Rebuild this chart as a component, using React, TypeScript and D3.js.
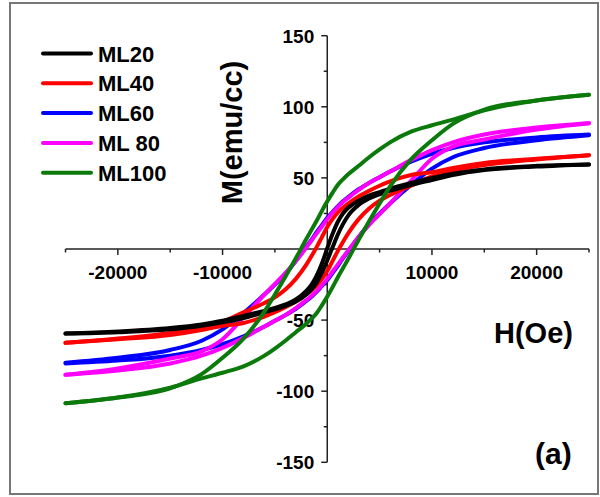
import React from 'react';
import * as d3 from 'd3';

// Field grid (Oe)
const H_GRID = [-25000, -20000, -15000, -12000, -10000, -8000, -6000, -5000, -4000, -3000, -2000, -1500, -1000, -500, 0, 500, 1000, 1500, 2000, 3000, 4000, 5000, 6000, 8000, 10000, 12000, 15000, 20000, 25000];

const SERIES_NAMES = ['ML20', 'ML40', 'ML60', 'ML 80', 'ML100'];
const SERIES_COLORS = ['#000000', '#ff0000', '#0000ff', '#ff00ff', '#0b7a0b'];

// descending-field branch (upper) and ascending-field branch (lower), M in emu/cc
const ML20_DOWN = [-59.5, -58, -55.5, -53, -50.5, -47, -43.5, -41.5, -39, -35.5, -29.5, -25, -18.5, -10, 0.5, 10.5, 19, 25, 29, 34, 37.5, 40, 42.5, 46.5, 50, 53, 56, 58.5, 59.5];
const ML20_UP = [-59.5, -58.5, -56.5, -54, -51.5, -48.5, -44.5, -42.5, -40, -37, -32, -28.5, -23.5, -16.5, -8, 1, 10, 17.5, 23.5, 31, 35.5, 38.5, 41, 45, 48.5, 52, 55.5, 58, 59.5];

const ML40_DOWN = [-66, -63, -59, -55, -51, -44.5, -38, -34, -28.5, -21, -11, -5, 1.5, 8.5, 15.5, 21, 25.5, 29, 32, 37, 41, 44.5, 47.5, 52, 54, 57, 60.5, 63.5, 66];
const ML40_UP = [-66, -63.5, -60.5, -57, -54, -52, -47.5, -44.5, -41, -37, -32, -29, -25.5, -21, -15.5, -8.5, -1.5, 5, 11, 21, 28.5, 34, 38, 44.5, 51, 55, 59, 63, 66];

const ML60_DOWN = [-80, -76.5, -71, -64.5, -56.5, -45, -32, -25, -17.5, -8.5, 1.5, 6.5, 12, 17, 22, 26, 30, 33.5, 36.5, 42, 46.5, 50.5, 54.5, 61.5, 67, 71, 75, 78.5, 80.5];
const ML60_UP = [-80.5, -78.5, -75, -71, -67, -61.5, -54.5, -50.5, -46.5, -42, -36.5, -33.5, -30, -26, -22, -17, -12, -6.5, -1.5, 8.5, 17.5, 25, 32, 45, 56.5, 64.5, 71, 76.5, 80];

const ML80_DOWN = [-88.5, -84, -77, -72, -63.5, -48, -32, -24.5, -17, -8.5, 1, 6, 11, 16, 21, 25.5, 29.5, 33, 36, 41.5, 46.5, 50.5, 54.5, 62.5, 69.5, 75, 80.5, 85.5, 88.5];
const ML80_UP = [-88.5, -85.5, -80.5, -75, -69.5, -62.5, -54.5, -50.5, -46.5, -41.5, -36, -33, -29.5, -25.5, -21, -16, -11, -6, -1, 8.5, 17, 24.5, 32, 48, 63.5, 72, 77, 84, 88.5];

const ML100_DOWN = [-108.5, -104.5, -98, -88, -76.5, -63, -44, -32, -19.5, -6.5, 7, 13.5, 20, 27, 33.5, 39.5, 45, 49, 52.5, 58.5, 64.5, 70, 75, 82.5, 87, 91, 97.5, 104.5, 108.5];
const ML100_UP = [-108.5, -104.5, -97.5, -91, -87, -82.5, -75, -70, -64.5, -58.5, -52.5, -49, -45, -39.5, -33.5, -27, -20, -13.5, -7, 6.5, 19.5, 32, 44, 63, 76.5, 88, 98, 104.5, 108.5];

const DOWN_BRANCHES = [ML20_DOWN, ML40_DOWN, ML60_DOWN, ML80_DOWN, ML100_DOWN];
const UP_BRANCHES = [ML20_UP, ML40_UP, ML60_UP, ML80_UP, ML100_UP];

const X_TICKS = [-25000, -20000, -15000, -10000, -5000, 5000, 10000, 15000, 20000, 25000];
const X_LABELS = [-20000, -10000, 10000, 20000];
const Y_TICKS = [-150, -125, -100, -75, -50, -25, 25, 50, 75, 100, 125, 150];
const Y_LABELS = [-150, -100, -50, 50, 100, 150];

const FONT = '"Liberation Sans", Arial, Helvetica, sans-serif';

export default function App() {
  const W = 600;
  const H = 497;
  const x = d3.scaleLinear().domain([-25000, 25000]).range([65.5, 589]);
  const y = d3.scaleLinear().domain([-150, 150]).range([462.3, 35.7]);
  const x0 = x(0);
  const y0 = y(0);

  const line = d3
    .line<[number, number]>()
    .x((d) => x(d[0]))
    .y((d) => y(d[1]))
    .curve(d3.curveMonotoneX);

  const drawOrder = [2, 3, 1, 0, 4];

  return (
    <svg
      width={W}
      height={H}
      viewBox={`0 0 ${W} ${H}`}
      style={{ position: 'absolute', left: 0, top: 0, background: '#fff' }}
    >
      <rect x={0} y={0} width={W} height={H} fill="#fff" />
      <rect x={10} y={3} width={588} height={491} fill="none" stroke="#777" strokeWidth={2} />

      {/* x axis */}
      <line x1={x(-25000)} x2={x(25000)} y1={y0} y2={y0} stroke="#222" strokeWidth={1.5} />
      {X_TICKS.map((t) => {
        const major = t % 10000 === 0;
        return (
          <line key={'xt' + t} x1={x(t)} x2={x(t)} y1={y0} y2={y0 + (major ? 6 : 3.5)} stroke="#222" strokeWidth={1.5} />
        );
      })}
      {X_LABELS.map((t) => (
        <text key={'xl' + t} x={x(t)} y={y0 + 30} textAnchor="middle" fontFamily={FONT} fontWeight="bold" fontSize={19} fill="#000">
          {t}
        </text>
      ))}

      {/* y axis */}
      <line x1={x0} x2={x0} y1={y(150)} y2={y(-150)} stroke="#222" strokeWidth={1.5} />
      {Y_TICKS.map((t) => {
        const major = t % 50 === 0;
        return (
          <line key={'yt' + t} x1={x0 - (major ? 6 : 3.5)} x2={x0} y1={y(t)} y2={y(t)} stroke="#222" strokeWidth={1.5} />
        );
      })}
      {Y_LABELS.map((t) => (
        <text key={'yl' + t} x={x0 - 13} y={y(t) + 7} textAnchor="end" fontFamily={FONT} fontWeight="bold" fontSize={19} fill="#000">
          {t}
        </text>
      ))}

      {/* curves */}
      {drawOrder.map((i) => {
        const down = H_GRID.map((h, k) => [h, DOWN_BRANCHES[i][k]] as [number, number]);
        const up = H_GRID.map((h, k) => [h, UP_BRANCHES[i][k]] as [number, number]);
        return (
          <g key={'s' + i} fill="none" stroke={SERIES_COLORS[i]} strokeWidth={4} strokeLinejoin="round" strokeLinecap="round">
            <path d={line(down) || ''} />
            <path d={line(up) || ''} />
          </g>
        );
      })}

      {/* axis titles */}
      <text
        transform={`translate(242,132.5) rotate(-90)`}
        textAnchor="middle"
        fontFamily={FONT}
        fontWeight="bold"
        fontSize={29}
        fill="#000"
      >
        M(emu/cc)
      </text>
      <text x={494} y={343} fontFamily={FONT} fontWeight="bold" fontSize={29} fill="#000">
        H(Oe)
      </text>
      <text x={535} y={464} fontFamily={FONT} fontWeight="bold" fontSize={30} fill="#000">
        (a)
      </text>

      {/* legend */}
      {SERIES_NAMES.map((name, i) => {
        const by = 61.5 + i * 29.8;
        return (
          <g key={'lg' + i}>
            <line x1={43} x2={91} y1={by - 8} y2={by - 8} stroke={SERIES_COLORS[i]} strokeWidth={4} strokeLinecap="round" />
            <text x={98} y={by} fontFamily={FONT} fontWeight="bold" fontSize={22} fill="#000">
              {name}
            </text>
          </g>
        );
      })}
    </svg>
  );
}
